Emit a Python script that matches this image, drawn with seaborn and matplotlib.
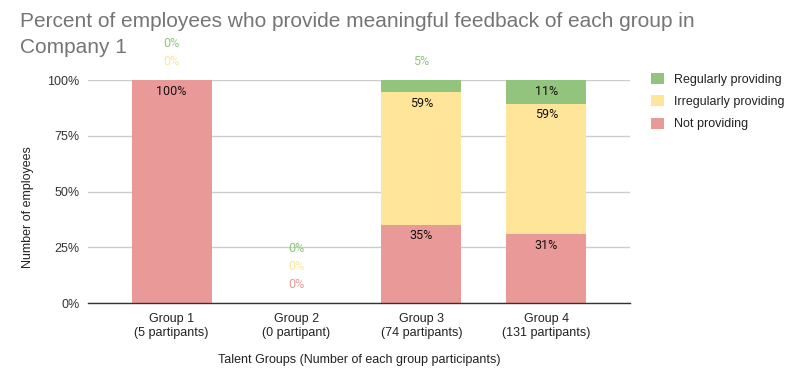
import matplotlib
matplotlib.use("Agg")
import matplotlib.pyplot as plt
import seaborn as sns
import pandas as pd
import numpy as np
from matplotlib.patches import Patch

groups = ["Group 1\n(5 partipants)", "Group 2\n(0 partipant)", "Group 3\n(74 partipants)", "Group 4\n(131 partipants)"]
not_providing = [100.0, 0.0, 35.2, 30.8]
irregularly = [0.0, 0.0, 59.4, 58.6]
regularly = [0.0, 0.0, 5.4, 10.6]
series_names = ["Regularly providing", "Irregularly providing", "Not providing"]
yticks = [0, 25, 50, 75, 100]

c_green = "#93c47d"
c_yellow = "#ffe599"
c_red = "#ea9999"

sns.set_theme(style="white")
plt.rcParams['font.family'] = ['Liberation Sans', 'DejaVu Sans']

fig = plt.figure(figsize=(8, 3.86), dpi=100)
ax = fig.add_axes([0.11, 0.215, 0.6775, 0.5777])

df = pd.DataFrame({"group": groups, "red": not_providing, "yellow": irregularly, "green": regularly})
df["c1"] = df["red"]
df["c2"] = df["red"] + df["yellow"]
df["c3"] = df["c2"] + df["green"]

sns.barplot(data=df, x="group", y="c3", color=c_green, saturation=1, width=0.64, ax=ax, linewidth=0)
sns.barplot(data=df, x="group", y="c2", color=c_yellow, saturation=1, width=0.64, ax=ax, linewidth=0)
sns.barplot(data=df, x="group", y="c1", color=c_red, saturation=1, width=0.64, ax=ax, linewidth=0)

ax.set_xlim(-0.67, 3.67)
ax.set_ylim(0, 100)
ax.set_yticks(yticks)
ax.set_yticklabels([f"{t}%" for t in yticks], fontsize=9, color="#333333")
ax.tick_params(axis="x", labelsize=9, colors="#222222", length=0, pad=7)
ax.tick_params(axis="y", length=0, pad=6)
ax.yaxis.grid(True, color="#cccccc", linewidth=1)
ax.set_axisbelow(True)
for s in ["top", "right", "left"]:
    ax.spines[s].set_visible(False)
ax.spines["bottom"].set_color("#333333")
ax.spines["bottom"].set_linewidth(1)
ax.spines["bottom"].set_zorder(5)

ax.set_xlabel("Talent Groups (Number of each group participants)", fontsize=9, color="#222222", labelpad=11)
ax.set_ylabel("Number of employees", fontsize=9, color="#222222")
ax.yaxis.set_label_coords(-0.1, 0.43)

# data labels
lab_font = dict(fontsize=9, family=['Roboto', 'DejaVu Sans'], ha="center", va="center")
for i in range(len(groups)):
    segs = [(not_providing[i], c_red), (irregularly[i], c_yellow), (regularly[i], c_green)]
    base = 0.0
    outside = 0
    for val, col in segs:
        top = base + val
        if val >= 8:
            ax.annotate(f"{round(val)}%", (i, top), xytext=(0, -8), textcoords="offset points",
                        color="#111111", **lab_font)
        else:
            outside += 1
            ax.annotate(f"{round(val)}%", (i, top if val > 0 else base), xytext=(0, 13 * outside), textcoords="offset points",
                        color=col, annotation_clip=False, **lab_font)
        base = top

fig.text(0.025, 0.945, "Percent of employees who provide meaningful feedback of each group in",
         fontsize=15, color="#757575", ha="left", va="center")
fig.text(0.025, 0.877, "Company 1", fontsize=15, color="#757575", ha="left", va="center")

handles = [Patch(facecolor=c_green, edgecolor="none"), Patch(facecolor=c_yellow, edgecolor="none"),
           Patch(facecolor=c_red, edgecolor="none")]
fig.legend(handles, series_names, loc="upper left", bbox_to_anchor=(0.8, 0.84), frameon=False,
           fontsize=9, handlelength=1.0, handleheight=1.0, handletextpad=0.8, labelspacing=0.75,
           labelcolor="#222222")

fig.savefig("out.png", dpi=100)
